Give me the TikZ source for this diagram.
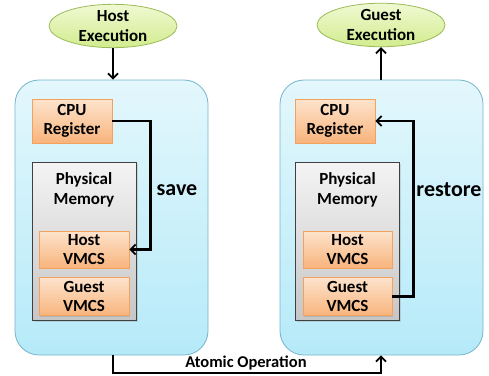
\documentclass[tikz,border=0pt]{standalone}
\usepackage{fontspec}
\setmainfont{Carlito}
\usetikzlibrary{arrows.meta,shapes.geometric,shadows}
\definecolor{panelTop}{HTML}{E3F7FC}
\definecolor{panelBot}{HTML}{B6EAF9}
\definecolor{panelLine}{HTML}{73B5CB}
\definecolor{regTop}{HTML}{FDE3CC}
\definecolor{regBot}{HTML}{F8B47C}
\definecolor{regLine}{HTML}{F2A25E}
\definecolor{memTop}{HTML}{F4F4F4}
\definecolor{memBot}{HTML}{C6C6C6}
\definecolor{ovTop}{HTML}{F0F9D2}
\definecolor{ovBot}{HTML}{D2EC8E}
\definecolor{ovLine}{HTML}{9BBB59}
\tikzset{
  panel/.style={draw=panelLine, line width=0.8pt, rounded corners=24pt,
    top color=panelTop, bottom color=panelBot, minimum width=#1, minimum height=275pt, inner sep=0pt},
  reg/.style={draw=regLine, line width=0.8pt, top color=regTop, bottom color=regBot,
    font=\bfseries\fontsize{17}{19.5}\selectfont, align=center, inner sep=0pt,
    drop shadow={opacity=0.25, shadow xshift=1.2pt, shadow yshift=-1.2pt}},
  mem/.style={draw=black!75, line width=1pt, top color=memTop, bottom color=memBot,
    minimum width=104pt, minimum height=158pt, inner sep=0pt,
    drop shadow={opacity=0.25, shadow xshift=1.5pt, shadow yshift=-1.5pt}},
  oval/.style={ellipse, draw=ovLine, line width=0.8pt, top color=ovTop, bottom color=ovBot,
    minimum width=128pt, minimum height=42pt, inner sep=0pt, align=center,
    font=\bfseries\fontsize{17}{19.5}\selectfont},
  conn/.style={line width=2.2pt, -{Straight Barb[length=5pt,width=10pt,line width=1.8pt]}},
  lbl/.style={font=\bfseries\fontsize{#1}{#1}\selectfont, inner sep=0pt},
  memlbl/.style={font=\bfseries\fontsize{17}{19.5}\selectfont, align=center, inner sep=0pt}
}
\begin{document}
\begin{tikzpicture}[x=1pt,y=-1pt]
\useasboundingbox (0,0) rectangle (489,375);

% execution states
\node[oval] (host) at (113,26) {Host\\Execution};
\node[oval] (guest) at (381,25) {Guest\\Execution};

% the two sides
\node[panel=193pt] (lbox) at (111.5,217.5) {};
\node[panel=203pt] (rbox) at (381.5,217.5) {};

% left side contents
\node[reg, minimum width=80pt, minimum height=44pt] (lcpu) at (72,121) {CPU\\Register};
\node[mem] (lmem) at (84,241) {};
\node[memlbl] (lmemt) at (84,190) {Physical\\Memory};
\node[reg, minimum width=90pt, minimum height=37pt] (lhv) at (84,249.5) {Host\\VMCS};
\node[reg, minimum width=90pt, minimum height=38pt] (lgv) at (84,296.5) {Guest\\VMCS};

% right side contents
\node[reg, minimum width=80pt, minimum height=44pt] (rcpu) at (335,121) {CPU\\Register};
\node[mem] (rmem) at (347.5,241) {};
\node[memlbl] (rmemt) at (347.5,190) {Physical\\Memory};
\node[reg, minimum width=89pt, minimum height=37pt] (rhv) at (347.5,249.5) {Host\\VMCS};
\node[reg, minimum width=89pt, minimum height=38pt] (rgv) at (347.5,296.5) {Guest\\VMCS};

% connectors
\draw[conn] (host) -- (host |- lbox.north);
\draw[conn] (guest |- rbox.north) -- (guest);
\draw[conn] (lcpu.east) -- ++(38,0) |- (lhv.east);
\draw[conn] (rgv.east) -- ++(21,0) |- (rcpu.east);
\node[lbl=22] (save) at (177,190) {save};
\node[lbl=22] (restore) at (449,190) {restore};

\coordinate (a1) at (host |- 0,373);
\coordinate (a2) at (guest |- 0,373);
\draw[conn] (host |- lbox.south) -- (a1) -- (a2) -- (guest |- rbox.south);
\node[lbl=16.5] (atomic) at (246,363) {Atomic Operation};
\end{tikzpicture}
\end{document}
